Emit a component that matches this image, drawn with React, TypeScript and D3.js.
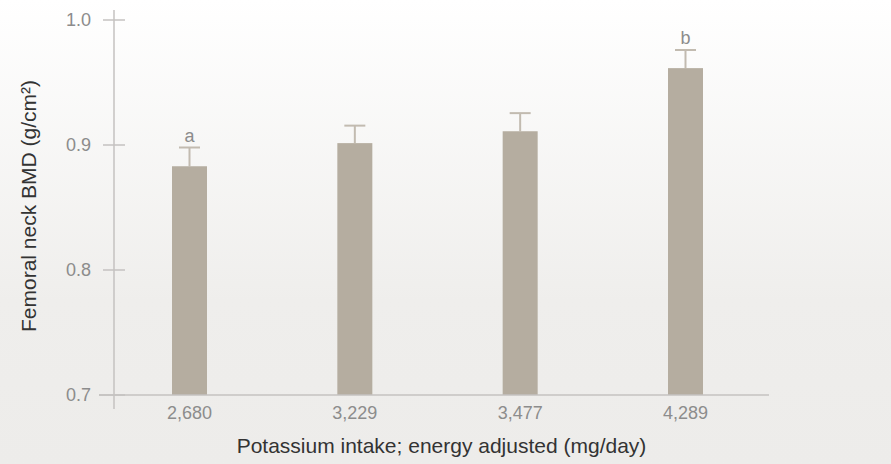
import React from "react";
import * as d3 from "d3";

const width = 891;
const height = 464;

// potassium intake quartiles (mg/day)
const intakeLabels = ["2,680", "3,229", "3,477", "4,289"];
// femoral neck BMD means and upper error bar ends
const bmdMeans = [0.883, 0.9015, 0.911, 0.9615];
const bmdErrTop = [0.898, 0.9155, 0.9255, 0.976];
const sigLetters = ["a", "", "", "b"];
const yTicks = [0.7, 0.8, 0.9, 1.0];

const barColor = "#b5ada0";
const errColor = "#c2bbb0";
const axisColor = "#c4c2c0";
const tickText = "#8c8c8c";
const titleText = "#333333";
const font = "'Liberation Sans', Arial, Helvetica, sans-serif";

const axisX = 114;
const baseY = 395;

export default function App() {
  const x = d3.scalePoint<string>().domain(intakeLabels).range([189.5, 685.5]);
  const y = d3.scaleLinear().domain([0.7, 1.0]).range([baseY, 20]);
  const barW = 35;
  const capW = 21;

  return (
    <svg
      width={width}
      height={height}
      style={{ position: "absolute", left: 0, top: 0 }}
    >
      <defs>
        <linearGradient id="bg" x1="0" y1="0" x2="0" y2="1">
          <stop offset="0" stopColor="#ffffff" />
          <stop offset="0.65" stopColor="#efeeec" />
          <stop offset="1" stopColor="#edecea" />
        </linearGradient>
      </defs>
      <rect width={width} height={height} fill="url(#bg)" />

      {/* bars + error bars */}
      {intakeLabels.map((c, i) => {
        const cx = x(c)!;
        return (
          <g key={c}>
            <line
              x1={cx}
              x2={cx}
              y1={y(bmdMeans[i])}
              y2={y(bmdErrTop[i])}
              stroke={errColor}
              strokeWidth={2}
            />
            <line
              x1={cx - capW / 2}
              x2={cx + capW / 2}
              y1={y(bmdErrTop[i])}
              y2={y(bmdErrTop[i])}
              stroke={errColor}
              strokeWidth={2}
            />
            <rect
              x={cx - barW / 2}
              y={y(bmdMeans[i])}
              width={barW}
              height={baseY - y(bmdMeans[i])}
              fill={barColor}
            />
            {sigLetters[i] && (
              <text
                x={cx}
                y={y(bmdErrTop[i]) - 6}
                textAnchor="middle"
                fontFamily={font}
                fontSize={18}
                fill={tickText}
              >
                {sigLetters[i]}
              </text>
            )}
            <text
              x={cx}
              y={419}
              textAnchor="middle"
              fontFamily={font}
              fontSize={18}
              fill={tickText}
            >
              {c}
            </text>
          </g>
        );
      })}

      {/* y axis */}
      <line x1={axisX} x2={axisX} y1={10} y2={409} stroke={axisColor} strokeWidth={1.5} />
      {yTicks.map((t) => (
        <g key={t}>
          <line
            x1={t === 0.7 ? 99 : 103}
            x2={125}
            y1={y(t)}
            y2={y(t)}
            stroke={axisColor}
            strokeWidth={1.5}
          />
          <text
            x={91}
            y={y(t)}
            dy="0.32em"
            textAnchor="end"
            fontFamily={font}
            fontSize={18}
            fill={tickText}
          >
            {d3.format(".1f")(t)}
          </text>
        </g>
      ))}

      {/* x axis baseline */}
      <line x1={99} x2={769} y1={baseY} y2={baseY} stroke={axisColor} strokeWidth={1.5} />

      {/* axis titles */}
      <text
        x={441.5}
        y={453}
        textAnchor="middle"
        fontFamily={font}
        fontSize={21}
        fill={titleText}
      >
        Potassium intake; energy adjusted (mg/day)
      </text>
      <text
        transform="translate(36, 206) rotate(-90)"
        textAnchor="middle"
        fontFamily={font}
        fontSize={21}
        fill={titleText}
      >
        Femoral neck BMD (g/cm²)
      </text>
    </svg>
  );
}
